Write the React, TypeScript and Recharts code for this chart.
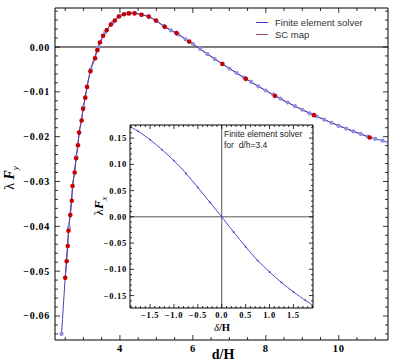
import React from 'react';
import { ComposedChart, Line, XAxis, YAxis, ReferenceLine } from 'recharts';

// Finite element solver, main plot (d/H, lambda*F_y)
const feDistance = [
  2.4, 2.6, 2.8, 3.0, 3.2, 3.4, 3.6, 3.8, 4.0, 4.2, 4.4, 4.6, 4.8, 5.0, 5.2, 5.4,
  5.6, 5.8, 6.0, 6.2, 6.4, 6.6, 6.8, 7.0, 7.2, 7.4, 7.6, 7.8, 8.0, 8.2, 8.4, 8.6,
  8.8, 9.0, 9.2, 9.4, 9.6, 9.8, 10.0, 10.2, 10.4, 10.6, 10.8, 11.0, 11.2, 11.4,
];
const feForce = [
  -0.064, -0.0403, -0.0245, -0.0134, -0.005, -0.0002, 0.0033, 0.0054, 0.0069, 0.0075,
  0.0076, 0.0072, 0.0067, 0.0058, 0.0047, 0.0037, 0.0028, 0.0017, 0.0007, -0.0004,
  -0.0016, -0.0027, -0.0037, -0.0048, -0.0058, -0.0068, -0.0078, -0.0088, -0.0097,
  -0.0106, -0.0115, -0.0124, -0.0132, -0.014, -0.0148, -0.0155, -0.0162, -0.0169,
  -0.0176, -0.0182, -0.0188, -0.0194, -0.02, -0.0205, -0.0209, -0.0214,
];

// SC map points (red dots)
const scDistance = [
  2.5, 2.54, 2.57, 2.59, 2.64, 2.68, 2.7, 2.76, 2.8, 2.85, 2.88, 2.95, 2.99, 3.05,
  3.1, 3.19, 3.32, 3.38, 3.45, 3.54, 3.64, 3.75, 3.86, 3.97, 4.11, 4.25, 4.4, 4.59,
  4.79, 4.99, 5.23, 5.55, 5.9, 6.81, 7.45, 8.25, 9.32, 10.85,
];
const scForce = [
  -0.0515, -0.0478, -0.0444, -0.041, -0.0375, -0.0343, -0.031, -0.028, -0.0248,
  -0.0219, -0.0191, -0.0164, -0.0138, -0.0113, -0.0089, -0.0054, -0.0025, -0.0007,
  0.001, 0.0025, 0.0038, 0.005, 0.0059, 0.0068, 0.0073, 0.0075, 0.0075, 0.0072,
  0.0068, 0.0059, 0.0045, 0.0031, 0.0012, -0.0038, -0.0071, -0.0109, -0.0152, -0.0202,
];

// inset: finite element solver for d/h = 3.4 (delta/H, lambda*F_x)
const insetDelta = [
  -1.92, -1.75, -1.5, -1.25, -1.0, -0.75, -0.5, -0.25, 0, 0.25, 0.5, 0.75, 1.0, 1.25,
  1.5, 1.75, 1.91,
];
const insetForce = [
  0.172, 0.163, 0.147, 0.128, 0.107, 0.083, 0.056, 0.028, 0, -0.029, -0.057, -0.083,
  -0.105, -0.125, -0.143, -0.159, -0.169,
];

const mainXMajor = [4, 6, 8, 10];
const mainYMajor = [-0.06, -0.05, -0.04, -0.03, -0.02, -0.01, 0];
const insetXMajor = [-1.5, -1.0, -0.5, 0, 0.5, 1.0, 1.5];
const insetYMajor = [-0.15, -0.1, -0.05, 0, 0.05, 0.1, 0.15];

const range = (a: number, b: number, step: number) => {
  const out: number[] = [];
  for (let v = a; v <= b + step / 2; v += step) out.push(Math.round(v * 1e6) / 1e6);
  return out;
};

const mainXTicks = range(2.5, 11, 0.5);
const mainYTicks = range(-0.064, 0.008, 0.002);
const insetXTicks = range(-1.9, 1.9, 0.1);
const insetYTicks = range(-0.17, 0.17, 0.01);

const feData = feDistance.map((d, i) => ({ d, f: feForce[i] }));
const scData = scDistance.map((d, i) => ({ d, f: scForce[i] }));
const insetData = insetDelta.map((d, i) => ({ d, f: insetForce[i] }));

const SERIF = "'Liberation Serif', 'Times New Roman', serif";
const SANS = "'Liberation Sans', Arial, sans-serif";

const minus = (s: string) => s.replace('-', '\u2212');
const fmt2 = (v: number) => minus(v.toFixed(2));
const fmt1 = (v: number) => minus(v.toFixed(1));

type Side = 'bottom' | 'top' | 'left' | 'right';

interface TickOpts {
  side: Side;
  majors: number[];
  majorLen: number;
  minorLen: number;
  format?: (v: number) => string;
  fontSize?: number;
  gap?: number;
}

// frame tick pointing inwards, label only on majors
const FrameTick = ({ x, y, payload, opts }: any) => {
  const { side, majors, majorLen, minorLen, format, fontSize = 10, gap = 4 } = opts as TickOpts;
  const isMajor = majors.some((m) => Math.abs(m - payload.value) < 1e-6);
  const len = isMajor ? majorLen : minorLen;
  let x2 = x;
  let y2 = y;
  if (side === 'bottom') y2 = y - len;
  if (side === 'top') y2 = y + len;
  if (side === 'left') x2 = x + len;
  if (side === 'right') x2 = x - len;
  const textStyle = { fontFamily: SERIF, fontWeight: 'bold' as const, fontSize, letterSpacing: 0.7 };
  return (
    <g>
      <line x1={x} y1={y} x2={x2} y2={y2} stroke="#000" strokeWidth={0.8} />
      {isMajor && format && side === 'bottom' && (
        <text x={x} y={y + gap} textAnchor="middle" fill="#000" style={textStyle}>
          {format(payload.value)}
        </text>
      )}
      {isMajor && format && side === 'left' && (
        <text x={x - gap} y={y + fontSize * 0.35} textAnchor="end" fill="#000" style={textStyle}>
          {format(payload.value)}
        </text>
      )}
    </g>
  );
};

const tickFor = (opts: TickOpts) => (props: any) => <FrameTick {...props} opts={opts} />;

const frameAxis = { stroke: '#000', strokeWidth: 1 };

const App = () => {
  return (
    <div style={{ position: 'absolute', left: 0, top: 0, width: 395, height: 364, background: '#fff' }}>
      <ComposedChart width={395} height={364} margin={{ top: 7, right: 6, bottom: 0, left: 0 }}>
        <XAxis
          xAxisId="b"
          dataKey="d"
          type="number"
          domain={[2.22, 11.35]}
          allowDataOverflow
          ticks={mainXTicks}
          interval={0}
          height={24}
          tickSize={0}
          tickMargin={0}
          axisLine={frameAxis}
          tickLine={false}
          tick={tickFor({ side: 'bottom', majors: mainXMajor, majorLen: 5, minorLen: 3, format: (v) => String(v), fontSize: 10.5, gap: 12 })}
        />
        <XAxis
          xAxisId="t"
          dataKey="d"
          type="number"
          orientation="top"
          domain={[2.22, 11.35]}
          allowDataOverflow
          ticks={mainXTicks}
          interval={0}
          height={1}
          tickSize={0}
          tickMargin={0}
          axisLine={frameAxis}
          tickLine={false}
          tick={tickFor({ side: 'top', majors: mainXMajor, majorLen: 5, minorLen: 3 })}
        />
        <YAxis
          yAxisId="l"
          type="number"
          domain={[-0.06536, 0.0087]}
          allowDataOverflow
          ticks={mainYTicks}
          interval={0}
          width={55}
          tickSize={0}
          tickMargin={0}
          axisLine={frameAxis}
          tickLine={false}
          tick={tickFor({ side: 'left', majors: mainYMajor, majorLen: 5, minorLen: 3, format: fmt2, fontSize: 10, gap: 5 })}
        />
        <YAxis
          yAxisId="r"
          type="number"
          orientation="right"
          domain={[-0.06536, 0.0087]}
          allowDataOverflow
          ticks={mainYTicks}
          interval={0}
          width={1}
          tickSize={0}
          tickMargin={0}
          axisLine={frameAxis}
          tickLine={false}
          tick={tickFor({ side: 'right', majors: mainYMajor, majorLen: 5, minorLen: 3 })}
        />
        <ReferenceLine xAxisId="b" yAxisId="l" y={0} stroke="#000" strokeWidth={1} />
        {/* SC map curve underneath, FE curve and dots over it, red SC dots on top */}
        <Line
          xAxisId="b"
          yAxisId="l"
          data={scData}
          dataKey="f"
          type="monotone"
          stroke="#8b3a66"
          strokeWidth={1}
          dot={false}
          isAnimationActive={false}
        />
        <Line
          xAxisId="b"
          yAxisId="l"
          data={feData}
          dataKey="f"
          type="monotone"
          stroke="#4a40c0"
          strokeWidth={1}
          dot={{ r: 2.1, fill: '#8e8ee0', stroke: 'none' }}
          isAnimationActive={false}
        />
        <Line
          xAxisId="b"
          yAxisId="l"
          data={scData}
          dataKey="f"
          type="monotone"
          stroke="none"
          dot={{ r: 2.3, fill: '#c40000', stroke: 'none' }}
          legendType="none"
          isAnimationActive={false}
        />
      </ComposedChart>

      {/* legend */}
      <div style={{ position: 'absolute', left: 256, top: 17, fontFamily: SANS, fontSize: 9.5, color: '#333', lineHeight: '11.5px' }}>
        <div style={{ display: 'flex', alignItems: 'center' }}>
          <span style={{ width: 12, height: 1.2, background: '#3c3cc4', marginRight: 7 }} />
          Finite element solver
        </div>
        <div style={{ display: 'flex', alignItems: 'center' }}>
          <span style={{ width: 12, height: 1.2, background: '#a04a70', marginRight: 7 }} />
          SC map
        </div>
      </div>

      {/* axis titles */}
      <div style={{ position: 'absolute', left: 223, top: 355, transform: 'translate(-50%, -50%)', fontFamily: SERIF, fontWeight: 'bold', fontSize: 14, whiteSpace: 'nowrap' }}>
        d/H
      </div>
      <div style={{ position: 'absolute', left: 11, top: 178, transform: 'translate(-50%, -50%) rotate(-90deg)', fontFamily: SERIF, fontSize: 14, whiteSpace: 'nowrap' }}>
        λ <b><i>F</i></b><sub style={{ fontSize: 9 }}><i>y</i></sub>
      </div>

      {/* inset */}
      <div style={{ position: 'absolute', left: 88, top: 123, width: 230, height: 215 }}>
        <ComposedChart width={230} height={215} margin={{ top: 1, right: 4, bottom: 0, left: 0 }}>
          <XAxis
            xAxisId="b"
            dataKey="d"
            type="number"
            domain={[-1.92, 1.91]}
            allowDataOverflow
            ticks={insetXTicks}
            interval={0}
            height={30}
            tickSize={0}
            tickMargin={0}
            axisLine={frameAxis}
            tickLine={false}
            tick={tickFor({ side: 'bottom', majors: insetXMajor, majorLen: 4, minorLen: 2, format: fmt1, fontSize: 8.5, gap: 10 })}
          />
          <XAxis
            xAxisId="t"
            dataKey="d"
            type="number"
            orientation="top"
            domain={[-1.92, 1.91]}
            allowDataOverflow
            ticks={insetXTicks}
            interval={0}
            height={1}
            tickSize={0}
            tickMargin={0}
            axisLine={frameAxis}
            tickLine={false}
            tick={tickFor({ side: 'top', majors: insetXMajor, majorLen: 4, minorLen: 2 })}
          />
          <YAxis
            yAxisId="l"
            type="number"
            domain={[-0.1737, 0.175]}
            allowDataOverflow
            ticks={insetYTicks}
            interval={0}
            width={42}
            tickSize={0}
            tickMargin={0}
            axisLine={frameAxis}
            tickLine={false}
            tick={tickFor({ side: 'left', majors: insetYMajor, majorLen: 4, minorLen: 2, format: fmt2, fontSize: 8.5, gap: 3 })}
          />
          <YAxis
            yAxisId="r"
            type="number"
            orientation="right"
            domain={[-0.1737, 0.175]}
            allowDataOverflow
            ticks={insetYTicks}
            interval={0}
            width={1}
            tickSize={0}
            tickMargin={0}
            axisLine={frameAxis}
            tickLine={false}
            tick={tickFor({ side: 'right', majors: insetYMajor, majorLen: 4, minorLen: 2 })}
          />
          <ReferenceLine xAxisId="b" yAxisId="l" y={0} stroke="#555" strokeWidth={1} />
          <ReferenceLine xAxisId="b" yAxisId="l" x={0} stroke="#555" strokeWidth={1} />
          <Line
            xAxisId="b"
            yAxisId="l"
            data={insetData}
            dataKey="f"
            type="natural"
            stroke="#5050c8"
            strokeWidth={1}
            dot={{ r: 1, fill: '#5050c8', stroke: 'none' }}
            isAnimationActive={false}
          />
        </ComposedChart>
      </div>
      <div style={{ position: 'absolute', left: 224, top: 129, fontFamily: SANS, fontSize: 8.5, color: '#222', lineHeight: '11px', whiteSpace: 'nowrap' }}>
        Finite element solver
        <br />
        for&nbsp; d/h=3.4
      </div>
      <div style={{ position: 'absolute', left: 222, top: 327, transform: 'translate(-50%, -50%)', fontFamily: SERIF, fontSize: 10.5, fontWeight: 'bold', whiteSpace: 'nowrap' }}>
        <i style={{ fontWeight: 'normal' }}>δ</i>/H
      </div>
      <div style={{ position: 'absolute', left: 100, top: 206, transform: 'translate(-50%, -50%) rotate(-90deg)', fontFamily: SERIF, fontSize: 13, whiteSpace: 'nowrap' }}>
        λ<b><i>F</i></b><sub style={{ fontSize: 8.5 }}><i>x</i></sub>
      </div>
    </div>
  );
};

export default App;
